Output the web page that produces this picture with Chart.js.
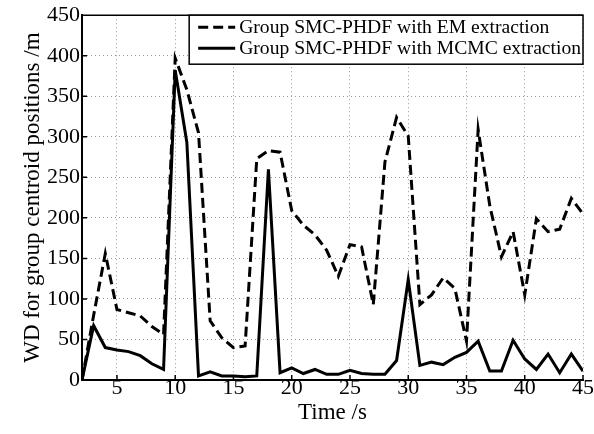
<!DOCTYPE html>
<html>
<head>
<meta charset="utf-8">
<script src="https://cdn.jsdelivr.net/npm/chart.js@4/dist/chart.umd.min.js"></script>
<style>
  body { margin: 0; background: #fff; }
  canvas { display: block; }
</style>
</head>
<body>
<canvas id="wd-chart" width="594" height="434"></canvas>
<script>
// Time steps (s)
const times = [2, 3, 4, 5, 6, 7, 8, 9, 10, 11, 12, 13, 14, 15, 16, 17, 18, 19, 20, 21, 22, 23,
    24, 25, 26, 27, 28, 29, 30, 31, 32, 33, 34, 35, 36, 37, 38, 39, 40, 41, 42, 43, 44, 45];

// WD values
const emValues = [0, 80, 156, 87, 83, 79, 66, 56, 397, 358, 305, 73, 52, 40, 42, 273, 283, 281,
    209, 191, 179, 160, 128, 167, 164, 93, 269, 324, 301, 93, 105, 126, 113, 48, 309, 215, 152,
    183, 105, 199, 183, 186, 224, 205];
const mcmcValues = [0, 67, 40, 37, 35, 30, 20, 13, 382, 293, 5, 10, 5, 5, 4, 5, 260, 9, 15, 8,
    13, 7, 7, 12, 8, 7, 7, 24, 124, 18, 22, 19, 28, 34, 48, 11, 11, 49, 26, 13, 32, 9, 32, 11];

const seriesNames = ['Group SMC-PHDF with EM extraction', 'Group SMC-PHDF with MCMC extraction'];
const xTicks = [5, 10, 15, 20, 25, 30, 35, 40, 45];
const yTicks = [0, 50, 100, 150, 200, 250, 300, 350, 400, 450];

const serif = '"Liberation Serif", "Times New Roman", serif';

function toPoints(values) {
    return times.map((t, i) => ({ x: t, y: values[i] }));
}

// Matlab-style frame: top line plus inward tick marks
const framePlugin = {
    id: 'frame',
    afterDatasetsDraw(chart) {
        const { ctx, chartArea, scales } = chart;
        ctx.save();
        ctx.strokeStyle = '#000';
        ctx.lineWidth = 1.5;
        ctx.beginPath();
        ctx.moveTo(chartArea.left, chartArea.top);
        ctx.lineTo(chartArea.right, chartArea.top);
        xTicks.forEach(v => {
            const px = scales.x.getPixelForValue(v);
            ctx.moveTo(px, chartArea.bottom);
            ctx.lineTo(px, chartArea.bottom - 5);
        });
        yTicks.forEach(v => {
            const py = scales.y.getPixelForValue(v);
            ctx.moveTo(chartArea.left, py);
            ctx.lineTo(chartArea.left + 5, py);
        });
        ctx.stroke();
        ctx.restore();
    }
};

// Boxed legend in the top right corner of the plot
const boxLegendPlugin = {
    id: 'boxLegend',
    afterDraw(chart) {
        const { ctx, chartArea } = chart;
        ctx.save();
        ctx.font = '19.6px ' + serif;
        const textW = Math.max(...seriesNames.map(s => ctx.measureText(s).width));
        const w = 50 + textW + 2;
        const h = 49;
        const left = chartArea.right - w;
        const top = chartArea.top;
        ctx.fillStyle = '#fff';
        ctx.fillRect(left, top, w, h);
        ctx.strokeStyle = '#000';
        ctx.lineWidth = 1.5;
        ctx.strokeRect(left, top, w, h);

        chart.data.datasets.forEach((ds, i) => {
            const y = top + 12 + i * 21;
            ctx.beginPath();
            ctx.setLineDash(ds.borderDash || []);
            ctx.lineWidth = ds.borderWidth;
            ctx.strokeStyle = ds.borderColor;
            ctx.moveTo(left + 9, y);
            ctx.lineTo(left + 46, y);
            ctx.stroke();
            ctx.setLineDash([]);
            ctx.fillStyle = '#000';
            ctx.textBaseline = 'middle';
            ctx.textAlign = 'left';
            ctx.fillText(seriesNames[i], left + 50, y + 1);
        });
        ctx.restore();
    }
};

const ctx = document.getElementById('wd-chart').getContext('2d');
new Chart(ctx, {
    type: 'line',
    data: {
        datasets: [{
            label: seriesNames[0],
            data: toPoints(emValues),
            borderColor: '#000',
            borderWidth: 3,
            borderDash: [10, 5],
            pointRadius: 0,
            tension: 0,
            fill: false
        }, {
            label: seriesNames[1],
            data: toPoints(mcmcValues),
            borderColor: '#000',
            borderWidth: 3,
            pointRadius: 0,
            tension: 0,
            fill: false
        }]
    },
    options: {
        responsive: false,
        animation: false,
        layout: { padding: { top: 11, right: 11, left: 0, bottom: 0 } },
        plugins: {
            legend: { display: false },
            tooltip: { enabled: false }
        },
        scales: {
            x: {
                type: 'linear',
                min: 2,
                max: 45,
                afterBuildTicks: scale => { scale.ticks = xTicks.map(v => ({ value: v })); },
                afterFit: scale => { scale.height = 54; },
                grid: { color: '#9a9a9a', lineWidth: 1, drawTicks: false },
                border: { display: true, color: '#000', width: 2, dash: [1, 3] },
                ticks: {
                    color: '#000',
                    font: { family: serif, size: 22 },
                    padding: -5,
                    maxRotation: 0
                },
                title: {
                    display: true,
                    text: 'Time /s',
                    color: '#000',
                    font: { family: serif, size: 23 },
                    padding: { top: 0, bottom: 7 }
                }
            },
            y: {
                min: 0,
                max: 450,
                afterBuildTicks: scale => { scale.ticks = yTicks.map(v => ({ value: v })); },
                afterFit: scale => { scale.width = 82; },
                grid: { color: '#9a9a9a', lineWidth: 1, drawTicks: false },
                border: { display: true, color: '#000', width: 2, dash: [1, 3] },
                ticks: {
                    color: '#000',
                    font: { family: serif, size: 22 },
                    padding: 2
                },
                title: {
                    display: true,
                    text: 'WD for group centroid positions /m',
                    color: '#000',
                    font: { family: serif, size: 23 },
                    padding: { top: 19, bottom: 0 }
                }
            }
        }
    },
    plugins: [framePlugin, boxLegendPlugin]
});
</script>
</body>
</html>
